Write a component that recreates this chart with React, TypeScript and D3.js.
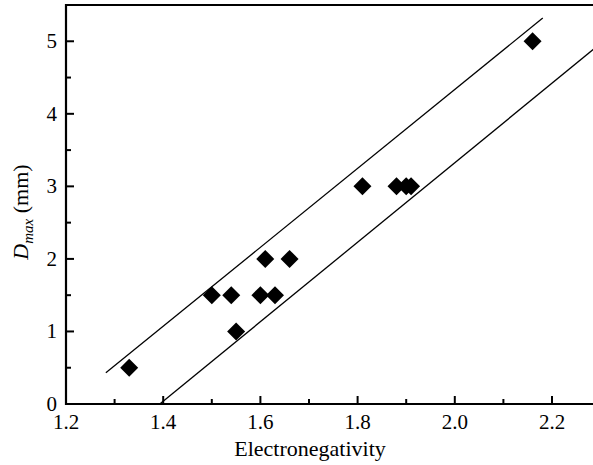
import React from "react";
import * as d3 from "d3";

const electroneg = [1.33, 1.5, 1.54, 1.55, 1.6, 1.61, 1.63, 1.66, 1.81, 1.88, 1.9, 1.91, 2.16];
const dmax = [0.5, 1.5, 1.5, 1.0, 1.5, 2.0, 1.5, 2.0, 3.0, 3.0, 3.0, 3.0, 5.0];
const upperLine = [[1.282, 0.43], [2.181, 5.32]];
const lowerLine = [[1.393, 0.0], [2.3, 4.97]];
const xMajor = [1.2, 1.4, 1.6, 1.8, 2.0, 2.2];
const xMinor = [1.3, 1.5, 1.7, 1.9, 2.1];
const yMajor = [0, 1, 2, 3, 4, 5];
const yMinor = [0.5, 1.5, 2.5, 3.5, 4.5];

export default function App() {
  const W = 593, H = 465;
  const left = 66, right = 600.6, top = 5, bottom = 404;
  const x = d3.scaleLinear().domain([1.2, 2.3]).range([left, right]);
  const y = d3.scaleLinear().domain([0, 5.5]).range([bottom, top]);
  const line = d3.line<number[]>().x(d => x(d[0])).y(d => y(d[1]));
  const font = "'Liberation Serif', 'Times New Roman', serif";
  const s = 9;
  return (
    <svg width={W} height={H} style={{ position: "absolute", left: 0, top: 0, background: "#fff" }}>
      <defs>
        <clipPath id="plot"><rect x={left} y={top} width={W - left} height={bottom - top} /></clipPath>
      </defs>
      <g clipPath="url(#plot)">
        <path d={line(upperLine as any) || ""} stroke="#000" strokeWidth={1.3} fill="none" />
        <path d={line(lowerLine as any) || ""} stroke="#000" strokeWidth={1.3} fill="none" />
        {electroneg.map((e, i) => {
          const cx = x(e), cy = y(dmax[i]);
          return <path key={i} d={`M${cx},${cy - s}L${cx + s},${cy}L${cx},${cy + s}L${cx - s},${cy}Z`} fill="#000" />;
        })}
      </g>
      <path d={`M${W},${top}H${left}V${bottom}H${W}`} stroke="#000" strokeWidth={2.2} fill="none" />
      {xMajor.map(v => <line key={"xM" + v} x1={x(v)} x2={x(v)} y1={bottom} y2={bottom - 8} stroke="#000" strokeWidth={2} />)}
      {xMinor.map(v => <line key={"xm" + v} x1={x(v)} x2={x(v)} y1={bottom} y2={bottom - 5} stroke="#000" strokeWidth={2} />)}
      {yMajor.map(v => <line key={"yM" + v} x1={left} x2={left + 8} y1={y(v)} y2={y(v)} stroke="#000" strokeWidth={2} />)}
      {yMinor.map(v => <line key={"ym" + v} x1={left} x2={left + 5} y1={y(v)} y2={y(v)} stroke="#000" strokeWidth={2} />)}
      {xMajor.map(v => (
        <text key={"xl" + v} x={x(v)} y={bottom + 25} textAnchor="middle" fontFamily={font} fontSize={21} fill="#000">{v.toFixed(1)}</text>
      ))}
      {yMajor.map(v => (
        <text key={"yl" + v} x={left - 9} y={y(v) + 7} textAnchor="end" fontFamily={font} fontSize={21} fill="#000">{v}</text>
      ))}
      <text x={310} y={456} textAnchor="middle" fontFamily={font} fontSize={22} fill="#000">Electronegativity</text>
      <text transform={`translate(28,212) rotate(-90)`} textAnchor="middle" fontFamily={font} fontSize={22} fill="#000">
        <tspan fontStyle="italic">D</tspan>
        <tspan fontStyle="italic" fontSize={15} dy={5}>max</tspan>
        <tspan dy={-5}> (mm)</tspan>
      </text>
    </svg>
  );
}
